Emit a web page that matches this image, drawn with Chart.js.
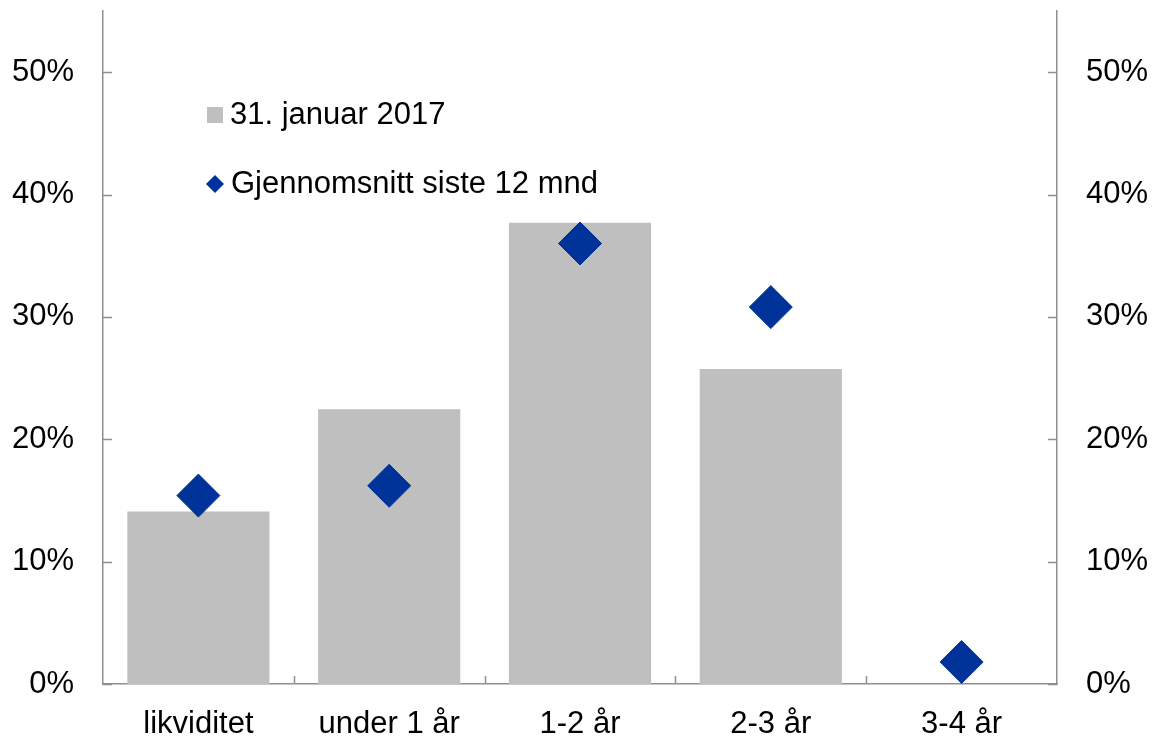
<!DOCTYPE html>
<html>
<head>
<meta charset="utf-8">
<script src="https://cdn.jsdelivr.net/npm/chart.js@4/dist/chart.umd.min.js"></script>
<style>
  html, body { margin: 0; padding: 0; background: #fff; }
  #wrap { width: 1155px; height: 736px; position: relative; }
</style>
</head>
<body>
<div id="wrap"><canvas id="c"></canvas></div>
<script>
const categories = ['likviditet', 'under 1 år', '1-2 år', '2-3 år', '3-4 år'];
const seriesBarLabel = '31. januar 2017';
const seriesBar = [14.1, 22.45, 37.7, 25.75, 0];
const seriesAvgLabel = 'Gjennomsnitt siste 12 mnd';
const seriesAvg = [15.4, 16.2, 36.0, 30.8, 1.8];
const yTicks = [0, 10, 20, 30, 40, 50];

const FONT = "'Liberation Sans', Arial, sans-serif";
const AXIS_COLOR = '#8f8f8f';
const BAR_COLOR = '#bfbfbf';
const AVG_COLOR = '#003399';

const innerTicks = {
  id: 'innerTicks',
  afterDraw(chart) {
    const ctx = chart.ctx;
    const x = chart.scales.x, y = chart.scales.y, y2 = chart.scales.y2;
    ctx.save();
    ctx.strokeStyle = AXIS_COLOR;
    ctx.lineWidth = 1.5;
    ctx.beginPath();
    yTicks.forEach(v => {
      const py = Math.round(y.getPixelForValue(v)) + 0.5;
      ctx.moveTo(y.right, py); ctx.lineTo(y.right + 9, py);
      const py2 = Math.round(y2.getPixelForValue(v)) + 0.5;
      ctx.moveTo(y2.left - 9, py2); ctx.lineTo(y2.left, py2);
    });
    for (let i = 0; i < categories.length - 1; i++) {
      const px = Math.round((x.getPixelForValue(i) + x.getPixelForValue(i + 1)) / 2) + 0.5;
      ctx.moveTo(px, x.top); ctx.lineTo(px, x.top - 8);
    }
    ctx.stroke();
    ctx.restore();
  }
};

const customLegend = {
  id: 'customLegend',
  afterDraw(chart) {
    const ctx = chart.ctx;
    const ds = chart.data.datasets;
    ctx.save();
    ctx.font = '31px ' + FONT;
    ctx.textBaseline = 'alphabetic';
    ctx.textAlign = 'left';
    ctx.fillStyle = ds[1].backgroundColor;
    ctx.fillRect(207, 107, 16, 16);
    ctx.fillStyle = '#000';
    ctx.fillText(ds[1].label, 230, 124);
    ctx.fillStyle = ds[0].pointBackgroundColor;
    ctx.beginPath();
    ctx.moveTo(215, 175); ctx.lineTo(224, 184); ctx.lineTo(215, 193); ctx.lineTo(206, 184);
    ctx.closePath();
    ctx.fill();
    ctx.fillStyle = '#000';
    ctx.fillText(ds[0].label, 231, 193);
    ctx.restore();
  }
};

const tickCb = v => v + '%';
const keepTens = s => { s.ticks = s.ticks.filter(t => yTicks.includes(t.value)); };
const fixY = w => s => { s.width = w; s.paddingTop = 0; s.paddingBottom = 0; };

new Chart(document.getElementById('c'), {
  data: {
    labels: categories,
    datasets: [
      {
        type: 'line',
        label: seriesAvgLabel,
        data: seriesAvg,
        showLine: false,
        pointStyle: 'rectRot',
        pointRadius: 21.5,
        pointHoverRadius: 21.5,
        pointBackgroundColor: AVG_COLOR,
        pointBorderColor: AVG_COLOR,
        pointBorderWidth: 1,
        borderColor: AVG_COLOR,
        backgroundColor: AVG_COLOR,
        clip: false,
        order: 0,
        yAxisID: 'y'
      },
      {
        type: 'bar',
        label: seriesBarLabel,
        data: seriesBar,
        backgroundColor: BAR_COLOR,
        borderWidth: 0,
        categoryPercentage: 1.0,
        barPercentage: 0.745,
        order: 1,
        yAxisID: 'y'
      }
    ]
  },
  options: {
    responsive: true,
    maintainAspectRatio: false,
    animation: false,
    events: [],
    layout: { autoPadding: false, padding: { top: 11, left: 0, right: 0, bottom: 0 } },
    plugins: {
      legend: { display: false },
      tooltip: { enabled: false }
    },
    scales: {
      x: {
        type: 'category',
        offset: true,
        grid: { display: false, drawTicks: false, tickLength: 0 },
        border: { display: true, color: AXIS_COLOR, width: 1.5 },
        ticks: { color: '#000', font: { family: FONT, size: 31 }, padding: 22, maxRotation: 0, autoSkip: false },
        afterFit: s => { s.height = 52; s.paddingLeft = 0; s.paddingRight = 0; }
      },
      y: {
        type: 'linear',
        position: 'left',
        min: 0, max: 55,
        grid: { display: false, drawTicks: false, tickLength: 0 },
        border: { display: true, color: AXIS_COLOR, width: 1.5 },
        ticks: { stepSize: 10, color: '#000', font: { family: FONT, size: 31 }, padding: 29, callback: tickCb },
        afterBuildTicks: keepTens,
        afterFit: fixY(103)
      },
      y2: {
        type: 'linear',
        position: 'right',
        min: 0, max: 55,
        grid: { display: false, drawTicks: false, tickLength: 0 },
        border: { display: true, color: AXIS_COLOR, width: 1.5 },
        ticks: { stepSize: 10, color: '#000', font: { family: FONT, size: 31 }, padding: 29, callback: tickCb },
        afterBuildTicks: keepTens,
        afterFit: fixY(98)
      }
    }
  },
  plugins: [innerTicks, customLegend]
});
</script>
</body>
</html>
